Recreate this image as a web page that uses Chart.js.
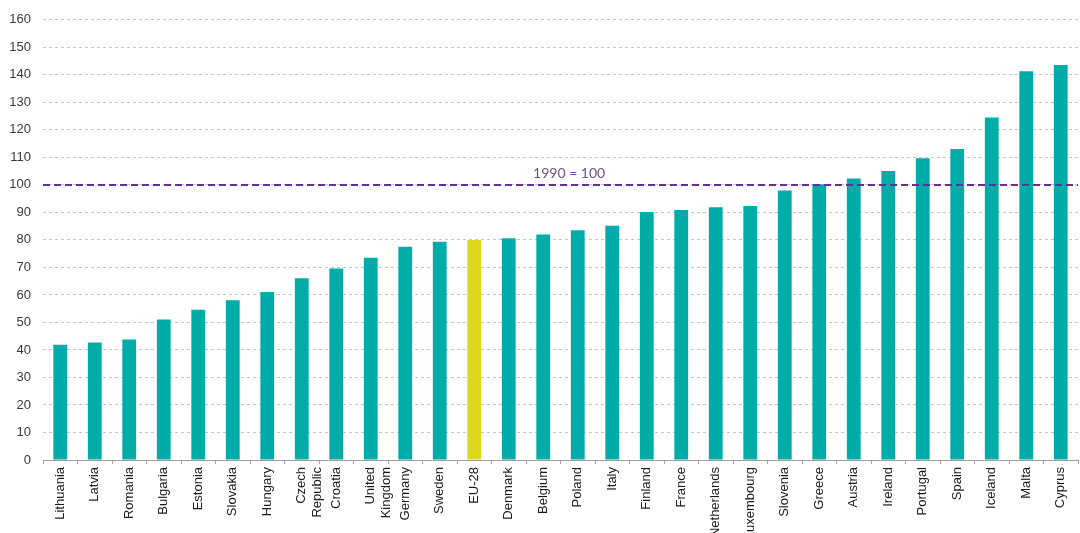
<!DOCTYPE html>
<html>
<head>
<meta charset="utf-8">
<script src="https://cdn.jsdelivr.net/npm/chart.js@4/dist/chart.umd.min.js"></script>
<style>
  html, body { margin: 0; padding: 0; background: #fff; overflow: hidden; }
  #wrap { width: 1080px; height: 533px; position: relative; }
</style>
</head>
<body>
<div id="wrap"><canvas id="ghgChart"></canvas></div>
<script>
// index 1990 = 100
var countries = ['Lithuania', 'Latvia', 'Romania', 'Bulgaria', 'Estonia', 'Slovakia', 'Hungary',
    ['Czech', 'Republic'], 'Croatia', ['United', 'Kingdom'], 'Germany', 'Sweden', 'EU-28', 'Denmark',
    'Belgium', 'Poland', 'Italy', 'Finland', 'France', 'Netherlands', 'Luxembourg', 'Slovenia',
    'Greece', 'Austria', 'Ireland', 'Portugal', 'Spain', 'Iceland', 'Malta', 'Cyprus'];
var indexValues = [41.9, 42.7, 43.8, 51.1, 54.6, 58.1, 61.1, 66.1, 69.6, 73.5, 77.5, 79.3, 80.0, 80.6,
    82.0, 83.5, 85.1, 90.1, 90.9, 91.9, 92.3, 98.0, 100.2, 102.3, 105.0, 109.7, 113.0, 124.5, 141.3, 143.6];
var yTicks = [0, 10, 20, 30, 40, 50, 60, 70, 80, 90, 100, 110, 120, 130, 140, 150, 160];
var baseYear = 100;
var baseLabel = '1990 = 100';
var highlight = 'EU-28';

var teal = '#00aca8';
var yellow = '#dfd71f';

var barColors = countries.map(function (c) {
    return c === highlight ? yellow : teal;
});

var baseLinePlugin = {
    id: 'baseLine',
    afterDatasetsDraw: function (chart) {
        var ctx = chart.ctx;
        var area = chart.chartArea;
        var y = chart.scales.y.getPixelForValue(baseYear);
        ctx.save();
        ctx.strokeStyle = '#6b2c96';
        ctx.lineWidth = 2;
        ctx.setLineDash([7, 4]);
        ctx.beginPath();
        ctx.moveTo(area.left, y);
        ctx.lineTo(area.right, y);
        ctx.stroke();
        ctx.setLineDash([]);
        ctx.fillStyle = '#70508f';
        ctx.font = '14px Lato, "Open Sans", sans-serif';
        ctx.textAlign = 'center';
        ctx.textBaseline = 'bottom';
        ctx.fillText(baseLabel, chart.scales.x.getPixelForValue(14.75), y - 4);
        ctx.restore();
    }
};

var ctx = document.getElementById('ghgChart').getContext('2d');
var chart = new Chart(ctx, {
    type: 'bar',
    data: {
        labels: countries,
        datasets: [{
            label: 'GHG emissions',
            data: indexValues,
            backgroundColor: barColors,
            borderWidth: 0,
            barPercentage: 0.8,
            categoryPercentage: 0.5
        }]
    },
    options: {
        responsive: true,
        maintainAspectRatio: false,
        animation: false,
        layout: { padding: { top: 19, right: 2, left: 0, bottom: 0 } },
        plugins: {
            legend: { display: false },
            tooltip: { enabled: false }
        },
        scales: {
            x: {
                afterFit: function (scale) { scale.height = 73; },
                grid: {
                    drawOnChartArea: false,
                    drawTicks: true,
                    tickLength: 4,
                    color: '#a0a0a0',
                    offset: true
                },
                border: { display: true, color: '#a0a0a0', width: 1 },
                ticks: {
                    autoSkip: false,
                    maxRotation: 90,
                    minRotation: 90,
                    padding: 3,
                    color: '#1a1a1a',
                    font: { family: 'Arial, "Liberation Sans", sans-serif', size: 13 }
                }
            },
            y: {
                min: 0,
                max: 160,
                afterFit: function (scale) { scale.width = 43; },
                afterBuildTicks: function (scale) {
                    scale.ticks = yTicks.map(function (v) { return { value: v }; });
                },
                border: { display: false, dash: [3, 3] },
                grid: {
                    drawTicks: false,
                    color: function (c) { return c.tick.value === 0 ? 'rgba(0,0,0,0)' : '#c4c4c4'; },
                    lineWidth: 1
                },
                ticks: {
                    padding: 12,
                    color: '#3a3a3a',
                    font: { family: 'Arial, "Liberation Sans", sans-serif', size: 13 }
                }
            }
        }
    },
    plugins: [baseLinePlugin]
});
</script>
</body>
</html>
